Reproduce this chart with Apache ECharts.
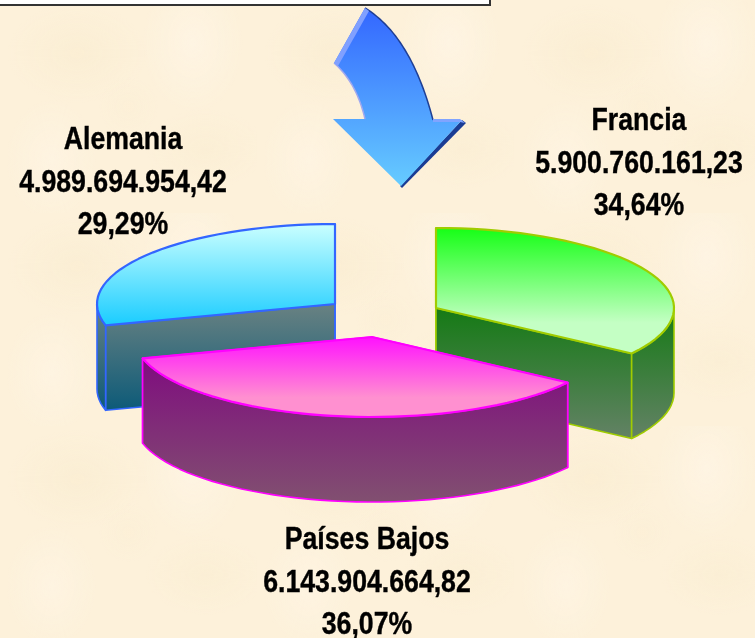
<!DOCTYPE html>
<html>
<head>
<meta charset="utf-8">
<title>Pie</title>
<style>
html,body{margin:0;padding:0;width:100%;height:100%;overflow:hidden;}
body{
  background-color:#fdf1da;
  background-image:
    radial-gradient(ellipse 70px 50px at 30% 25%,rgba(246,230,195,.28),rgba(246,230,195,0)),
    radial-gradient(ellipse 50px 70px at 75% 20%,rgba(255,247,235,.5),rgba(255,247,235,0)),
    radial-gradient(ellipse 60px 40px at 80% 70%,rgba(247,232,198,.25),rgba(247,232,198,0)),
    radial-gradient(ellipse 45px 60px at 20% 75%,rgba(255,246,232,.5),rgba(255,246,232,0)),
    radial-gradient(ellipse 30px 30px at 50% 50%,rgba(250,236,208,.3),rgba(250,236,208,0));
  background-size:257px 213px;
}
#main{width:755px;height:638px;}
</style>
</head>
<body>
<div id="main"></div>
<script src="https://cdn.jsdelivr.net/npm/echarts@6/dist/echarts.min.js"></script>
<script>
const categories = ['Francia', 'Países Bajos', 'Alemania']
const values = [5900760161.23, 6143904664.82, 4989694954.42]

// layout of the exploded 3d pie
const radiusX = 238
const radiusY = 80
const depth = 85
const apexList = [[436, 308], [372, 337], [335, 304]]
const labelPos = [[639, 164], [367, 583], [123, 183]]
const layerList = [20, 30, 10] // Alemania behind, Países Bajos in front
const edgeColors = ['#a0cc00', '#ff00ff', '#3366ff']
const topColors = [['#14ff14', '#c4ffc4', 0.75], ['#ff0fff', '#ff90d0', 0.75], ['#ccffff', '#18ccff', 1]]
const sideColors = [['#147a14', '#648266', 1], ['#7f0c7f', '#815070', 1], ['#6a8282', '#0c5a78', 1]]

const total = values.reduce((a, b) => a + b, 0)

function fmtAmount(v){
  const parts = v.toFixed(2).split('.')
  return parts[0].replace(/\B(?=(\d{3})+$)/g, '.') + ',' + parts[1]
}

function fmtPercent(v){
  return (v / total * 100).toFixed(2).replace('.', ',') + '%'
}

function vGrad(colors){
  return new echarts.graphic.LinearGradient(0, 0, 0, 1, [
    {offset: 0, color: colors[0]},
    {offset: colors[2] === undefined ? 1 : colors[2], color: colors[1]},
    {offset: 1, color: colors[1]}
  ])
}

// point on the ellipse, angle in degrees, clockwise on screen
function rim(apex, deg, dy){
  const r = deg * Math.PI / 180
  return [apex[0] + radiusX * Math.cos(r), apex[1] + radiusY * Math.sin(r) + (dy || 0)]
}

function arcPoints(apex, from, to, dy){
  const pts = []
  const steps = Math.max(2, Math.ceil(Math.abs(to - from) / 3))
  for(let i = 0; i <= steps; i++){
    pts.push(rim(apex, from + (to - from) * i / steps, dy))
  }
  return pts
}

function renderSlice(params, api){
  const i = params.dataIndex
  let start = -90
  for(let k = 0; k < i; k++) start += values[k] / total * 360
  const end = start + api.value(0) / total * 360
  const apex = apexList[i]
  const low = [apex[0], apex[1] + depth]
  const z2 = layerList[i]
  const line = {stroke: edgeColors[i], lineWidth: 1.6, lineJoin: 'round'}
  const children = []

  // cut faces
  ;[start, end].forEach(a => {
    children.push({
      type: 'polygon',
      z2: z2,
      shape: {points: [apex, rim(apex, a), rim(apex, a, depth), low]},
      style: Object.assign({fill: vGrad(sideColors[i])}, line)
    })
  })

  // outer wall, only the front half shows
  const wallFrom = Math.max(start, 0)
  const wallTo = Math.min(end, 180)
  if(wallTo > wallFrom){
    const upper = arcPoints(apex, wallFrom, wallTo)
    const lower = arcPoints(apex, wallTo, wallFrom, depth)
    children.push({
      type: 'polygon',
      z2: z2 + 1,
      shape: {points: upper.concat(lower)},
      style: Object.assign({fill: vGrad(sideColors[i])}, line)
    })
  }

  // top face
  children.push({
    type: 'polygon',
    z2: z2 + 2,
    shape: {points: [apex].concat(arcPoints(apex, start, end))},
    style: Object.assign({fill: vGrad(topColors[i])}, line, {lineWidth: 2.2})
  })

  children.push({
    type: 'text',
    z2: 50,
    x: labelPos[i][0],
    y: labelPos[i][1],
    scaleX: 0.86,
    style: {
      text: categories[i] + '\n' + fmtAmount(api.value(0)) + '\n' + fmtPercent(api.value(0)),
      align: 'center',
      verticalAlign: 'middle',
      lineHeight: 42.5,
      fontFamily: '"Liberation Sans", Arial, sans-serif',
      fontWeight: 'bold',
      fontSize: 31,
      fill: '#000',
      stroke: '#000',
      lineWidth: 0.4
    }
  })

  return {type: 'group', children: children}
}

// quadratic curve for the arrow outline
function curve(p0, c, p1, n){
  const pts = []
  for(let i = 0; i <= n; i++){
    const t = i / n
    const u = 1 - t
    pts.push([
      u * u * p0[0] + 2 * u * t * c[0] + t * t * p1[0],
      u * u * p0[1] + 2 * u * t * c[1] + t * t * p1[1]
    ])
  }
  return pts
}

const outerArc = curve([365, 8], [411, 36], [433, 120], 30)
const innerArc = curve([365, 119], [356.5, 82.5], [334, 63], 20)
const arrowBody = outerArc.concat([[462, 120], [401, 186], [333, 119]], innerArc)

const chart = echarts.init(document.getElementById('main'))
chart.setOption({
  animation: false,
  backgroundColor: 'transparent',
  graphic: [
    {type: 'rect', shape: {x: -4, y: -10, width: 494, height: 15}, style: {fill: '#fff', stroke: '#333', lineWidth: 2}},
    {type: 'polygon', shape: {points: [[462, 120], [466, 123], [402, 188], [400, 186]]}, style: {fill: '#1a3c94'}},
    {type: 'polygon', shape: {points: arrowBody}, style: {fill: vGrad(['#3366ff', '#66ccff'])}},
    {type: 'polyline', shape: {points: outerArc}, style: {stroke: '#1f3f94', lineWidth: 1.5, fill: null}},
    {type: 'polyline', shape: {points: innerArc}, style: {stroke: '#a0a8f0', lineWidth: 1.5, fill: null}},
    {type: 'polygon', shape: {points: [[365, 8], [369, 11], [338, 66], [334, 63]]}, style: {fill: '#80a0ff'}},
    {type: 'polygon', shape: {points: [[433, 119], [460, 119], [465, 123], [460, 122], [433, 122]]}, style: {fill: '#80a4ff'}}
  ],
  series: [{
    type: 'custom',
    coordinateSystem: 'none',
    silent: true,
    renderItem: renderSlice,
    data: values
  }]
})
</script>
</body>
</html>
